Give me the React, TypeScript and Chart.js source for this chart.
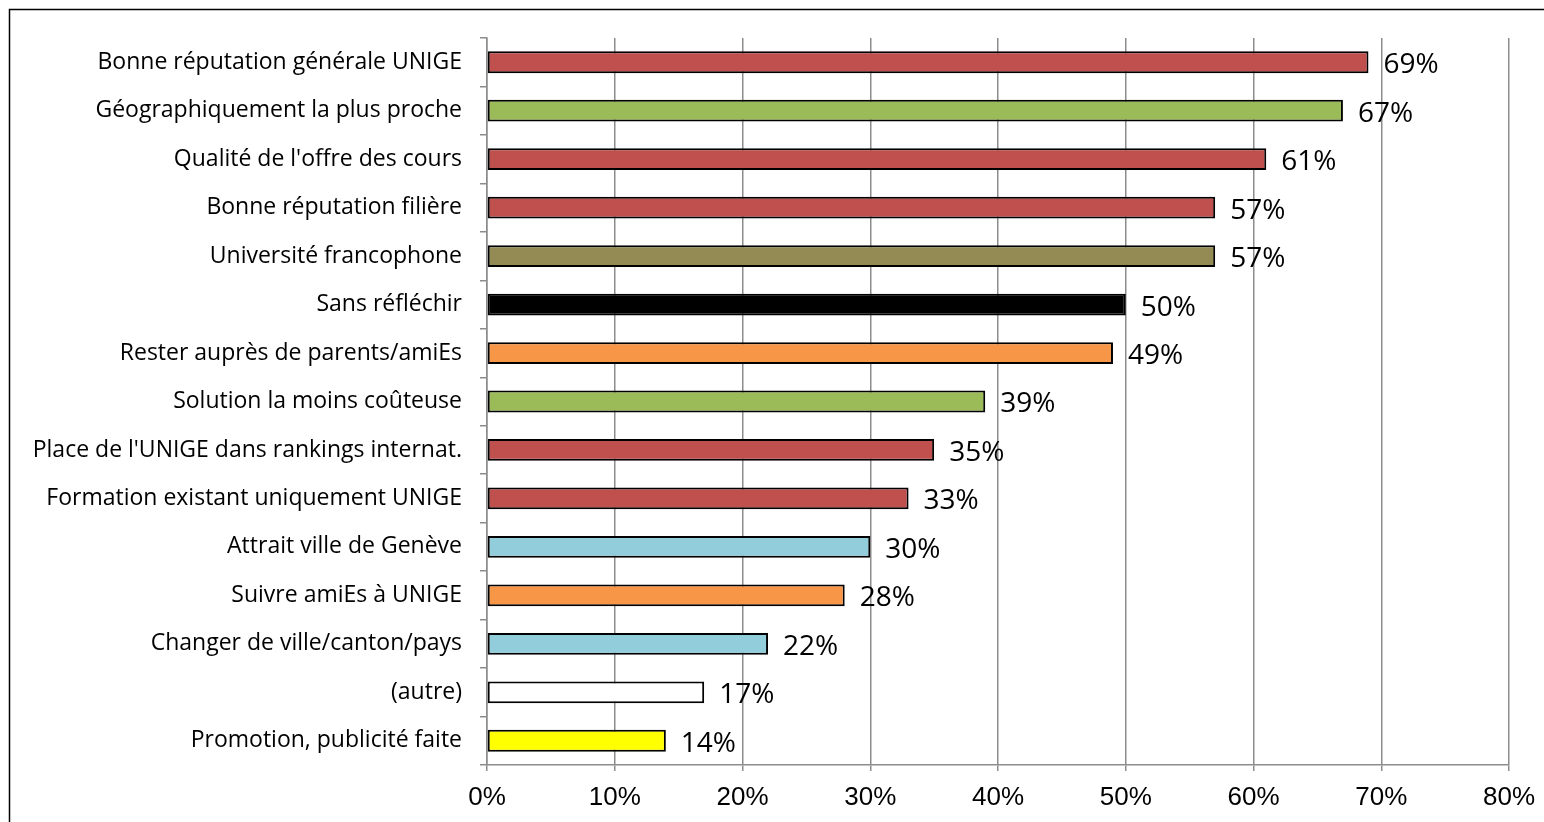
import React, { useEffect, useRef } from "react";
import { Chart, registerables } from "chart.js";

Chart.register(...registerables);

const categories = [
  "Bonne réputation générale UNIGE",
  "Géographiquement la plus proche",
  "Qualité de l'offre des cours",
  "Bonne réputation filière",
  "Université francophone",
  "Sans réfléchir",
  "Rester auprès de parents/amiEs",
  "Solution la moins coûteuse",
  "Place de l'UNIGE dans rankings internat.",
  "Formation existant uniquement UNIGE",
  "Attrait ville de Genève",
  "Suivre amiEs à UNIGE",
  "Changer de ville/canton/pays",
  "(autre)",
  "Promotion, publicité faite",
];

const values = [69, 67, 61, 57, 57, 50, 49, 39, 35, 33, 30, 28, 22, 17, 14];

const barColors = [
  "#C0504D",
  "#9BBB59",
  "#C0504D",
  "#C0504D",
  "#948A54",
  "#000000",
  "#F79646",
  "#9BBB59",
  "#C0504D",
  "#C0504D",
  "#92CDDC",
  "#F79646",
  "#92CDDC",
  "#FFFFFF",
  "#FFFF00",
];

const xTicks = [0, 10, 20, 30, 40, 50, 60, 70, 80];

const W = 1544;
const H = 822;

export default function App() {
  const ref = useRef<HTMLCanvasElement | null>(null);

  useEffect(() => {
    document.body.style.margin = "0";
    const canvas = ref.current;
    if (!canvas) return;

    const framePlugin = {
      id: "frame",
      beforeDraw(chart: any) {
        const ctx = chart.ctx;
        ctx.save();
        ctx.fillStyle = "#ffffff";
        ctx.fillRect(0, 0, chart.width, chart.height);
        ctx.strokeStyle = "#000000";
        ctx.lineWidth = 1.5;
        ctx.strokeRect(9.5, 9.5, chart.width + 50, chart.height + 50);
        ctx.restore();
      },
    };

    const labelPlugin = {
      id: "barLabels",
      afterDatasetsDraw(chart: any) {
        const ctx = chart.ctx;
        const meta = chart.getDatasetMeta(0);
        ctx.save();
        ctx.font = "28px 'Open Sans'";
        ctx.fillStyle = "#000000";
        ctx.textAlign = "left";
        ctx.textBaseline = "middle";
        meta.data.forEach((el: any, i: number) => {
          ctx.fillText(values[i] + "%", el.x + 15, el.y + 3);
        });
        ctx.restore();
      },
    };

    const chart = new Chart(canvas, {
      type: "bar",
      data: {
        labels: categories,
        datasets: [
          {
            data: values,
            backgroundColor: barColors,
            borderColor: "#000000",
            borderWidth: 2,
            borderSkipped: false,
            barPercentage: 0.45,
            categoryPercentage: 1,
          },
        ],
      },
      options: {
        indexAxis: "y",
        responsive: false,
        animation: false,
        layout: { padding: { top: 38, right: 35, left: 0, bottom: 0 } },
        plugins: {
          legend: { display: false },
          tooltip: { enabled: false },
        },
        scales: {
          x: {
            min: 0,
            max: 80,
            afterBuildTicks(scale: any) {
              scale.ticks = xTicks.map((v) => ({ value: v }));
            },
            afterFit(scale: any) {
              scale.height = 57;
              scale.paddingLeft = 0;
              scale.paddingRight = 0;
            },
            grid: {
              color: "#8c8c8c",
              lineWidth: 1.5,
              drawTicks: true,
              tickLength: 6,
            },
            border: { display: true, color: "#8c8c8c", width: 1.5 },
            ticks: {
              color: "#000000",
              font: { family: "'Liberation Sans', Arial", size: 26 },
              padding: 11,
              maxRotation: 0,
              callback: (v: any) => v + "%",
            },
          },
          y: {
            afterFit(scale: any) {
              scale.width = 487;
            },
            grid: {
              drawOnChartArea: false,
              drawTicks: true,
              tickLength: 7,
              offset: true,
              color: "#8c8c8c",
              lineWidth: 1.5,
            },
            border: { display: true, color: "#8c8c8c", width: 1.5 },
            ticks: {
              color: "#000000",
              font: { family: "'Open Sans'", size: 23 },
              padding: 18,
              autoSkip: false,
            },
          },
        },
      },
      plugins: [framePlugin, labelPlugin],
    });

    return () => chart.destroy();
  }, []);

  return (
    <div style={{ width: W, height: H }}>
      <canvas ref={ref} width={W} height={H} style={{ display: "block" }} />
    </div>
  );
}
